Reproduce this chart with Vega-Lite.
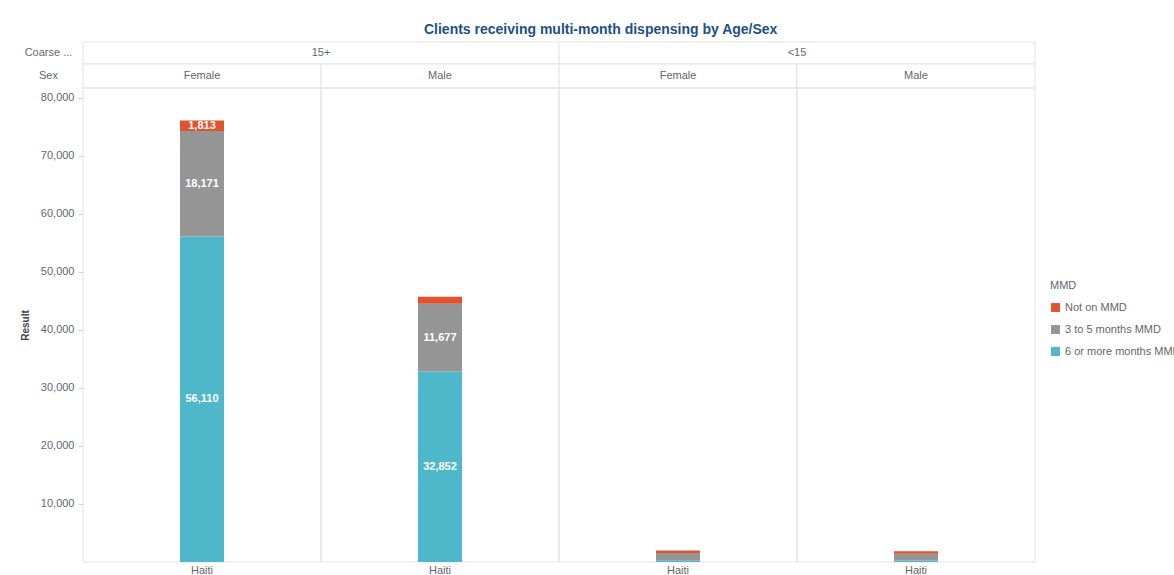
{
  "$schema": "https://vega.github.io/schema/vega-lite/v6.json",
  "background": "white",
  "padding": {"left": 20, "top": 22, "right": 0, "bottom": 0},
  "title": {
    "text": "Clients receiving multi-month dispensing by Age/Sex",
    "fontSize": 14,
    "fontWeight": "bold",
    "color": "#1d4f85",
    "anchor": "middle",
    "offset": 5
  },
  "datasets": {
    "mmd": [
      {"Country": "Haiti", "Age": "15+", "Sex": "Female", "Group": "15+ Female", "MMD": "6 or more months MMD", "Result": 56110},
      {"Country": "Haiti", "Age": "15+", "Sex": "Female", "Group": "15+ Female", "MMD": "3 to 5 months MMD", "Result": 18171},
      {"Country": "Haiti", "Age": "15+", "Sex": "Female", "Group": "15+ Female", "MMD": "Not on MMD", "Result": 1813},
      {"Country": "Haiti", "Age": "15+", "Sex": "Male", "Group": "15+ Male", "MMD": "6 or more months MMD", "Result": 32852},
      {"Country": "Haiti", "Age": "15+", "Sex": "Male", "Group": "15+ Male", "MMD": "3 to 5 months MMD", "Result": 11677},
      {"Country": "Haiti", "Age": "15+", "Sex": "Male", "Group": "15+ Male", "MMD": "Not on MMD", "Result": 1180},
      {"Country": "Haiti", "Age": "<15", "Sex": "Female", "Group": "<15 Female", "MMD": "6 or more months MMD", "Result": 300},
      {"Country": "Haiti", "Age": "<15", "Sex": "Female", "Group": "<15 Female", "MMD": "3 to 5 months MMD", "Result": 1250},
      {"Country": "Haiti", "Age": "<15", "Sex": "Female", "Group": "<15 Female", "MMD": "Not on MMD", "Result": 450},
      {"Country": "Haiti", "Age": "<15", "Sex": "Male", "Group": "<15 Male", "MMD": "6 or more months MMD", "Result": 250},
      {"Country": "Haiti", "Age": "<15", "Sex": "Male", "Group": "<15 Male", "MMD": "3 to 5 months MMD", "Result": 1180},
      {"Country": "Haiti", "Age": "<15", "Sex": "Male", "Group": "<15 Male", "MMD": "Not on MMD", "Result": 420}
    ]
  },
  "spacing": 0,
  "bounds": "flush",
  "resolve": {"scale": {"x": "independent", "y": "independent"}},
  "vconcat": [
    {
      "width": 952,
      "height": 22,
      "data": {"name": "mmd"},
      "transform": [{"aggregate": [{"op": "sum", "field": "Result", "as": "Total"}], "groupby": ["Age"]}],
      "encoding": {
        "x": {"field": "Age", "type": "nominal", "sort": ["15+", "<15"], "axis": null, "scale": {"paddingInner": 0, "paddingOuter": 0}},
        "y": {"datum": "Coarse ...", "type": "nominal", "scale": {"paddingInner": 0, "paddingOuter": 0}, "axis": {"title": null, "ticks": false, "domain": false, "labelAlign": "center", "labelPadding": 35, "labelFontSize": 11, "labelColor": "#666666"}}
      },
      "layer": [
        {"mark": {"type": "rect", "fill": "white", "stroke": "#e3e3e3", "strokeWidth": 1}},
        {"mark": {"type": "text", "fontSize": 11, "color": "#666666"}, "encoding": {"text": {"field": "Age"}}}
      ]
    },
    {
      "width": 952,
      "height": 24,
      "data": {"name": "mmd"},
      "transform": [{"aggregate": [{"op": "sum", "field": "Result", "as": "Total"}], "groupby": ["Group", "Sex"]}],
      "encoding": {
        "x": {"field": "Group", "type": "nominal", "sort": ["15+ Female", "15+ Male", "<15 Female", "<15 Male"], "axis": null, "scale": {"paddingInner": 0, "paddingOuter": 0}},
        "y": {"datum": "Sex", "type": "nominal", "scale": {"paddingInner": 0, "paddingOuter": 0}, "axis": {"title": null, "ticks": false, "domain": false, "labelAlign": "center", "labelPadding": 35, "labelFontSize": 11, "labelColor": "#666666"}}
      },
      "layer": [
        {"mark": {"type": "rect", "fill": "white", "stroke": "#e3e3e3", "strokeWidth": 1}},
        {"mark": {"type": "text", "fontSize": 11, "color": "#666666"}, "encoding": {"text": {"field": "Sex"}}}
      ]
    },
    {
      "width": 952,
      "height": 474,
      "data": {"name": "mmd"},
      "transform": [
        {"stack": "Result", "groupby": ["Group"], "as": ["y0", "y1"]},
        {"calculate": "(datum.y0 + datum.y1) / 2", "as": "mid"}
      ],
      "encoding": {
        "x": {
          "field": "Group",
          "type": "nominal",
          "sort": ["15+ Female", "15+ Male", "<15 Female", "<15 Male"],
          "scale": {"paddingInner": 0, "paddingOuter": 0},
          "axis": {"title": null, "ticks": false, "domain": false, "labelExpr": "'Haiti'", "labelAngle": 0, "labelPadding": 2, "labelFontSize": 11, "labelColor": "#666666"}
        }
      },
      "layer": [
        {
          "transform": [{"aggregate": [{"op": "sum", "field": "Result", "as": "Total"}], "groupby": ["Group"]}],
          "mark": {"type": "rect", "filled": false, "stroke": "#e3e3e3", "strokeWidth": 1}
        },
        {
          "mark": {"type": "bar", "size": 44},
          "encoding": {
            "y": {
              "field": "y0",
              "type": "quantitative",
              "scale": {"domain": [0, 81700], "nice": false, "zero": true},
              "axis": {
                "title": "Result",
                "titleFontSize": 10,
                "titleFontWeight": "bold",
                "titleColor": "#444444",
                "titlePadding": 10,
                "values": [10000, 20000, 30000, 40000, 50000, 60000, 70000, 80000],
                "format": ",d",
                "grid": false,
                "domain": false,
                "tickSize": 5,
                "tickColor": "#d6d6d6",
                "labelPadding": 4,
                "labelFontSize": 11,
                "labelColor": "#666666"
              }
            },
            "y2": {"field": "y1"},
            "color": {
              "field": "MMD",
              "type": "nominal",
              "scale": {
                "domain": ["Not on MMD", "3 to 5 months MMD", "6 or more months MMD"],
                "range": ["#df532f", "#959595", "#4eb8ca"]
              },
              "legend": {
                "orient": "none",
                "legendX": 967,
                "legendY": 238,
                "title": "MMD",
                "titleFontSize": 11,
                "titleFontWeight": "normal",
                "titleColor": "#666666",
                "titlePadding": 11,
                "labelFontSize": 11,
                "labelColor": "#666666",
                "symbolType": "square",
                "symbolSize": 80,
                "symbolStrokeWidth": 0,
                "rowPadding": 10,
                "labelLimit": 300
              }
            }
          }
        },
        {
          "transform": [{"filter": "datum.Result > 1500"}],
          "mark": {"type": "text", "color": "white", "fontWeight": "bold", "fontSize": 11},
          "encoding": {
            "y": {"field": "mid", "type": "quantitative"},
            "text": {"field": "Result", "type": "quantitative", "format": ","}
          }
        }
      ]
    }
  ],
  "config": {
    "font": "Liberation Sans",
    "view": {"stroke": null},
    "axis": {"labelFont": "Liberation Sans", "titleFont": "Liberation Sans"},
    "legend": {"labelFont": "Liberation Sans", "titleFont": "Liberation Sans"}
  }
}
